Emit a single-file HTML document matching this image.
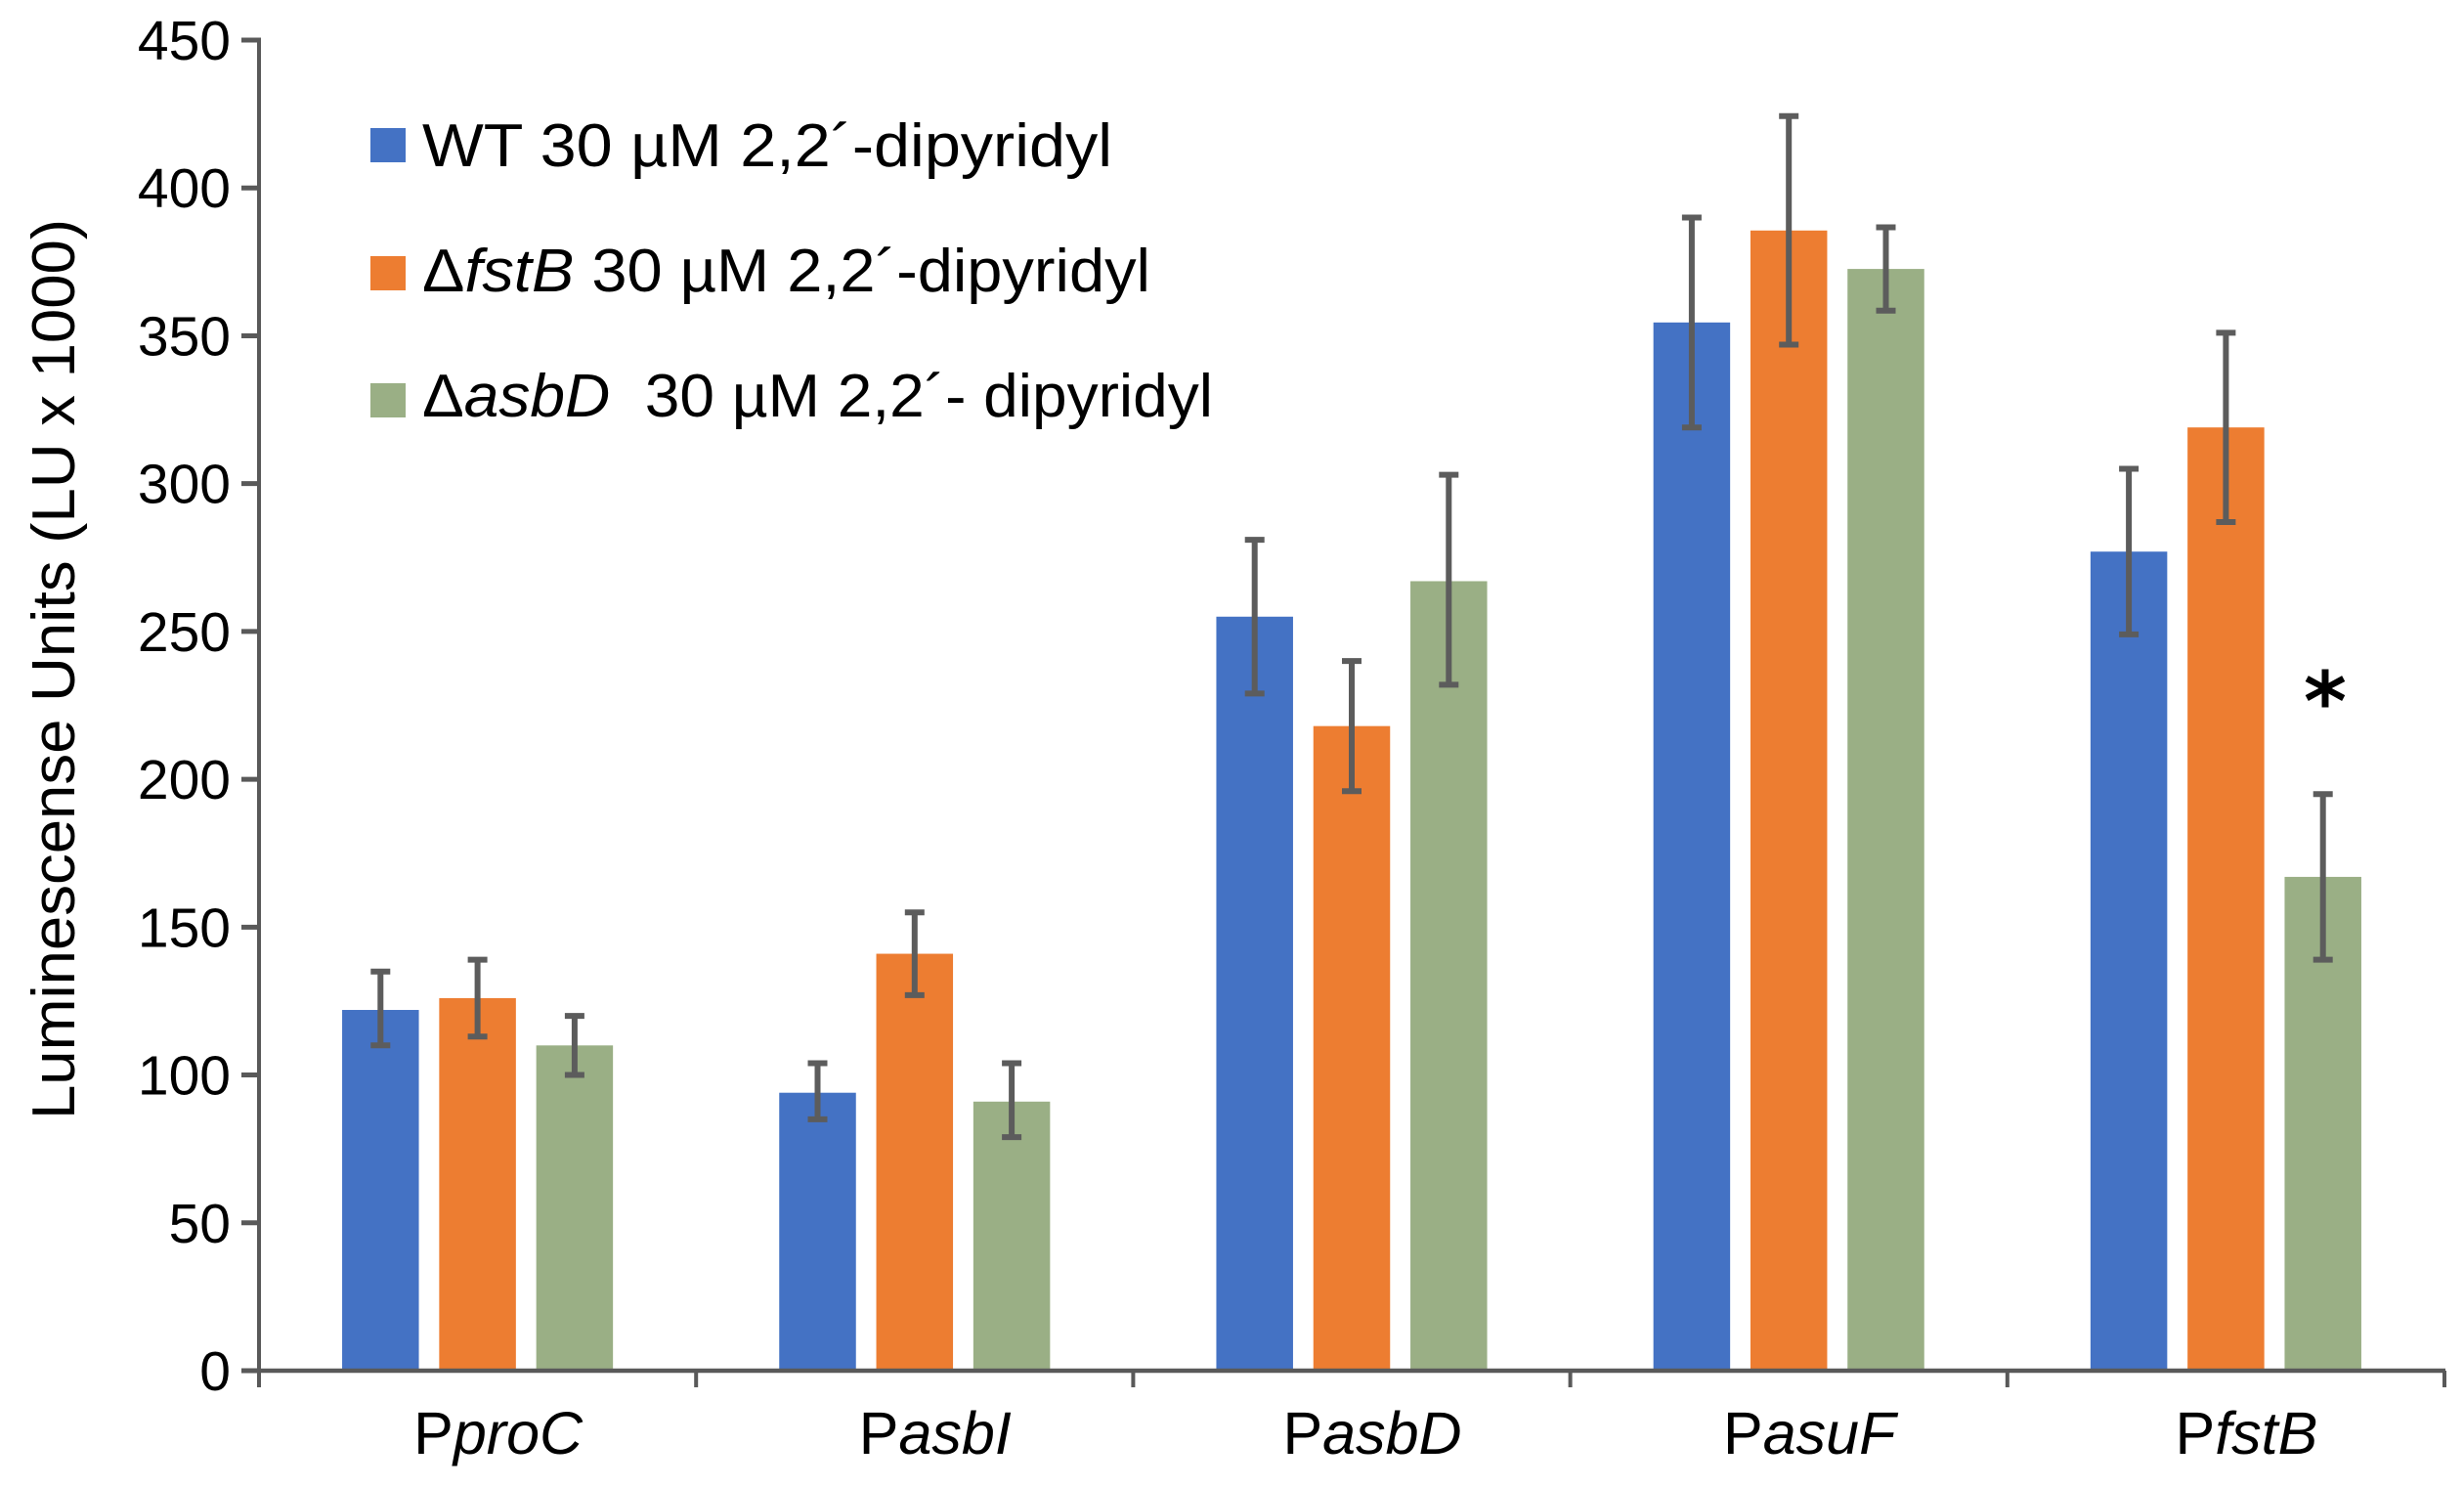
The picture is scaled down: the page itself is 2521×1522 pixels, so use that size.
<!DOCTYPE html>
<html lang="en">
<head>
<meta charset="utf-8">
<title>Luminescence bar chart</title>
<style>
html,body{margin:0;padding:0;background:#fff;}
svg{display:block;}
text{font-family:"Liberation Sans",sans-serif;fill:#000;}
</style>
</head>
<body>
<svg id="chart" xmlns="http://www.w3.org/2000/svg" width="2521" height="1522" viewBox="0 0 2521 1522">
  <rect x="0" y="0" width="2521" height="1522" fill="#fff"/>
  <g id="marks"></g>
  <g id="axes"></g>
  <text transform="translate(76,1145) rotate(-90)" font-size="62" textLength="921" lengthAdjust="spacingAndGlyphs">Luminescense Units (LU x 1000)</text>
  <g>
    <rect x="379" y="131" width="36" height="35" fill="#4472C4"/>
    <text x="432" y="170" font-size="62" textLength="706" lengthAdjust="spacingAndGlyphs">WT 30 µM 2,2´-dipyridyl</text>
    <rect x="379" y="262" width="36" height="35" fill="#ED7D31"/>
    <text x="432" y="298" font-size="62" textLength="745" lengthAdjust="spacingAndGlyphs">Δ<tspan font-style="italic">fstB</tspan> 30 µM 2,2´-dipyridyl</text>
    <rect x="379" y="392" width="36" height="35" fill="#9AAF85"/>
    <text x="432" y="426" font-size="62" textLength="809" lengthAdjust="spacingAndGlyphs" xml:space="preserve">Δ<tspan font-style="italic">asbD</tspan>  30 µM 2,2´- dipyridyl</text>
  </g>
  <text x="2379" y="747" font-size="84" font-weight="bold" text-anchor="middle" style="font-family:'DejaVu Sans',sans-serif">*</text>
</svg>
<script>
const categories = ["proC", "asbI", "asbD", "asuF", "fstB"];
const seriesNames = ["wt", "fstb", "asbd"];
const wtValues = [122, 94, 255, 354.5, 277];
const fstbValues = [126, 141, 218, 385.6, 319];
const asbdValues = [110, 91, 267, 372.6, 167];
const wtLow = [110, 85, 229, 319, 249];
const wtHigh = [135, 104, 281, 390, 305];
const fstbLow = [113, 127, 196, 347, 287];
const fstbHigh = [139, 155, 240, 424.3, 351];
const asbdLow = [100, 79, 232, 358.5, 139];
const asbdHigh = [120, 104, 303, 386.7, 195];
const yTicks = [0, 50, 100, 150, 200, 250, 300, 350, 400, 450];

const NS = "http://www.w3.org/2000/svg";
const plotLeft = 265, plotRight = 2501, plotBottom = 1402, plotTop = 41, yMax = 450;
const colors = ["#4472C4", "#ED7D31", "#9AAF85"];
const barWidth = 78.5, barStep = 99.3;
const values = [wtValues, fstbValues, asbdValues];
const lows = [wtLow, fstbLow, asbdLow];
const highs = [wtHigh, fstbHigh, asbdHigh];

function yScale(v) { return plotBottom - (v / yMax) * (plotBottom - plotTop); }
function bandWidth() { return (plotRight - plotLeft) / categories.length; }
function xCenter(i) { return plotLeft + bandWidth() * (i + 0.5); }
function make(tag, attrs, parent) {
  const el = document.createElementNS(NS, tag);
  for (const k in attrs) el.setAttribute(k, attrs[k]);
  parent.appendChild(el);
  return el;
}

const marks = document.getElementById("marks");
const axes = document.getElementById("axes");

categories.forEach(function (cat, c) {
  values.forEach(function (series, s) {
    const cx = xCenter(c) + (s - 1) * barStep;
    const bar = make("rect", {
      x: cx - barWidth / 2, y: yScale(series[c]),
      width: barWidth, height: plotBottom - yScale(series[c]), fill: colors[s]
    }, marks);
    
    

    const err = make("path", {
      d: "M" + cx + " " + yScale(highs[s][c]) + "V" + yScale(lows[s][c]) +
         "M" + (cx - 10) + " " + yScale(highs[s][c]) + "H" + (cx + 10) +
         "M" + (cx - 10) + " " + yScale(lows[s][c]) + "H" + (cx + 10),
      stroke: "#5C5C5C", "stroke-width": 6, fill: "none"
    }, marks);
    
    
  });
});

const yAxisLine = make("line", { x1: plotLeft, x2: plotLeft, y1: plotTop - 2.5, y2: plotBottom + 17, stroke: "#595959", "stroke-width": 4 }, axes);



const xAxisLine = make("line", { x1: plotLeft - 18, x2: plotRight + 1, y1: plotBottom, y2: plotBottom, stroke: "#595959", "stroke-width": 4.5 }, axes);



yTicks.forEach(function (t) {
  const y = yScale(t);
  const tick = make("line", { x1: plotLeft - 18, x2: plotLeft, y1: y, y2: y, stroke: "#595959", "stroke-width": 5 }, axes);
  
  
  const label = make("text", { x: 236, y: y + 20, "font-size": 57, "text-anchor": "end" }, axes);
  label.textContent = String(t);
  
  
});

for (let i = 1; i <= categories.length; i++) {
  const x = plotLeft + bandWidth() * i;
  const tick = make("line", { x1: x, x2: x, y1: plotBottom, y2: plotBottom + 17, stroke: "#595959", "stroke-width": 4 }, axes);
  
  
}

categories.forEach(function (cat, c) {
  const label = make("text", { x: xCenter(c) + 21, y: 1487, "font-size": 61, "text-anchor": "middle" }, axes);
  
  
  const p = make("tspan", {}, label);
  p.textContent = "P";
  const it = make("tspan", { "font-style": "italic" }, label);
  it.textContent = cat;
});
</script>
</body>
</html>
